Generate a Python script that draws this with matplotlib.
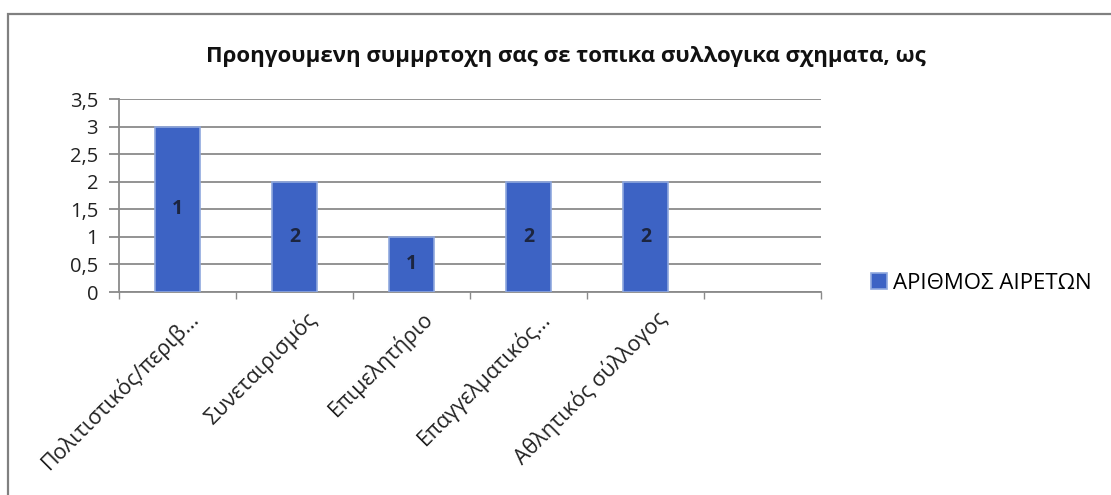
import matplotlib
matplotlib.use('Agg')
import matplotlib.pyplot as plt
from matplotlib.patches import Rectangle
from matplotlib.transforms import ScaledTranslation
import numpy as np

plt.rcParams['font.family'] = ['Open Sans', 'DejaVu Sans']

categories = ['Πολιτιστικός/περιβ...', 'Συνεταιρισμός', 'Επιμελητήριο',
              'Επαγγελματικός...', 'Αθλητικός σύλλογος', '']
values = [3, 2, 1, 2, 2, np.nan]
bar_labels = ['1', '2', '1', '2', '2', '']
yticks = [0, 0.5, 1, 1.5, 2, 2.5, 3, 3.5]
ytick_labels = ['0', '0,5', '1', '1,5', '2', '2,5', '3', '3,5']
title = 'Προηγουμενη συμμρτοχη σας σε τοπικα συλλογικα σχηματα, ως'
series_name = 'ΑΡΙΘΜΟΣ ΑΙΡΕΤΩΝ'

fig = plt.figure(figsize=(11.11, 4.95), dpi=100)
ax = fig.add_axes([0.1071, 0.410, 0.6319, 0.390])

# outer chart frame (runs off the right and bottom of the picture)
fig.patches.append(Rectangle((0.0072, -0.2), 1.1, 1.1717, transform=fig.transFigure,
                             fill=False, edgecolor='#808080', linewidth=1.6))

x = np.arange(len(categories))
bars = ax.bar(x, values, width=0.385, color='#3d63c4', edgecolor='#8fa8de',
              linewidth=1.2, zorder=3, label=series_name)

for xi, v, lab in zip(x, values, bar_labels):
    if lab:
        ax.text(xi, v / 2, lab, ha='center', va='center', fontsize=14,
                fontweight='bold', color='#1c2540', zorder=4)

ax.set_xlim(-0.5, len(categories) - 0.5)
ax.set_ylim(0, 3.5)
ax.set_yticks(yticks)
ax.set_yticklabels(ytick_labels, fontsize=14.5, color='#222222', fontweight='medium')
ax.yaxis.grid(True, color='#8a8a8a', linewidth=1.3, zorder=0)
ax.set_axisbelow(True)

for s in ['top', 'right']:
    ax.spines[s].set_visible(False)
for s in ['left', 'bottom']:
    ax.spines[s].set_color('#8a8a8a')
    ax.spines[s].set_linewidth(1.3)
ax.tick_params(axis='y', length=7, width=1.3, color='#8a8a8a', pad=8)

# category labels, rotated, right end next to each bar
ax.set_xticks(x)
ax.set_xticklabels(categories, rotation=45, ha='right', va='top',
                   rotation_mode='anchor', fontsize=15.5, color='#222222')
ax.tick_params(axis='x', length=0, pad=11)
offset = ScaledTranslation(0.1, 0, fig.dpi_scale_trans)
for lbl in ax.get_xticklabels():
    lbl.set_transform(lbl.get_transform() + offset)

ax.set_xticks(np.arange(len(categories) + 1) - 0.5, minor=True)
ax.tick_params(axis='x', which='minor', length=5, width=1, color='#8a8a8a')

fig.text(0.5095, 0.886, title, ha='center', va='center', fontsize=16,
         fontweight='bold', color='#111111')

fig.legend(handles=[bars], labels=[series_name], loc='center left',
           bbox_to_anchor=(0.766, 0.428), frameon=False, fontsize=16,
           handlelength=0.7, handleheight=0.7, handletextpad=0.3)

plt.savefig('out.png', dpi=100)
